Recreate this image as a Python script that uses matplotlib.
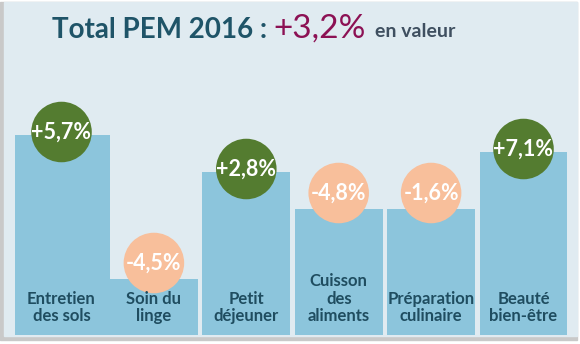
import matplotlib
matplotlib.use("Agg")
import matplotlib.pyplot as plt
from matplotlib.patches import Rectangle

# Data
categories = ["Entretien\ndes sols", "Soin du\nlinge", "Petit\ndéjeuner",
              "Cuisson\ndes\naliments", "Préparation\nculinaire", "Beauté\nbien-être"]
growth = [5.7, -4.5, 2.8, -4.8, -1.6, 7.1]          # % change in value
bar_height = [200, 56, 163, 126, 126, 183]            # visual bar heights
total_growth = 3.2

plt.rcParams['font.family'] = ['Lato', 'DejaVu Sans']

W, H = 580, 344
fig = plt.figure(figsize=(W / 100, H / 100), dpi=100)
fig.patch.set_facecolor('white')

# panel with a soft grey shadow on the left and bottom
fig.patches.append(Rectangle((0, 1 - 340 / H), 577 / W, 338 / H,
                             transform=fig.transFigure, color='#c9c9c9', zorder=-2))
fig.patches.append(Rectangle((4 / W, 1 - 336 / H), 573 / W, 334 / H,
                             transform=fig.transFigure, color='#e0ebf1', zorder=-1))

# axes: one unit on x = 92.4 px, bars sit on y px 335
left_px, right_px, bottom_px, top_px = 15.3, 569.7, 335, 100
ax = fig.add_axes([left_px / W, 1 - bottom_px / H,
                   (right_px - left_px) / W, (bottom_px - top_px) / H])
ax.set_zorder(1)
ax.set_xlim(-0.5, 5.5)
ax.set_ylim(0, bottom_px - top_px)
ax.axis('off')

x = range(len(categories))
widths = [1.05, 0.95, 0.95, 0.95, 0.95, 0.95]  # first bar is a bit wider
ax.bar(x, bar_height, width=widths, color='#8cc5dc', zorder=2)

for i, (g, h, lab) in enumerate(zip(growth, bar_height, categories)):
    pos = g > 0
    cy = h + (3 if pos else 16)
    ax.scatter([i], [cy], s=1900, color='#547c30' if pos else '#f8bf9b',
               edgecolors='none', zorder=3, clip_on=False)
    txt = f"{g:+.1f}%".replace('.', ',')
    ax.text(i, cy, txt, ha='center', va='center', color='white',
            fontsize=15.5, fontweight='bold', zorder=4)
    ax.text(i, 11, lab, ha='center', va='bottom', color='#1f4d60',
            fontsize=12, fontweight='bold', linespacing=1.1, zorder=4)

# title line
fig.text(52 / W, 1 - 38 / H, "Total PEM 2016 :", color='#1f5468',
         fontsize=20, fontweight='bold', va='baseline', ha='left')
fig.text(273 / W, 1 - 38 / H, f"+{total_growth:.1f}%".replace('.', ','),
         color='#8c1154', fontsize=24, va='baseline', ha='left')
fig.text(375 / W, 1 - 37 / H, "en valeur", color='#3f4f60',
         fontsize=14, fontweight='bold', va='baseline', ha='left')

fig.savefig('out.png', dpi=100, facecolor=fig.get_facecolor())
